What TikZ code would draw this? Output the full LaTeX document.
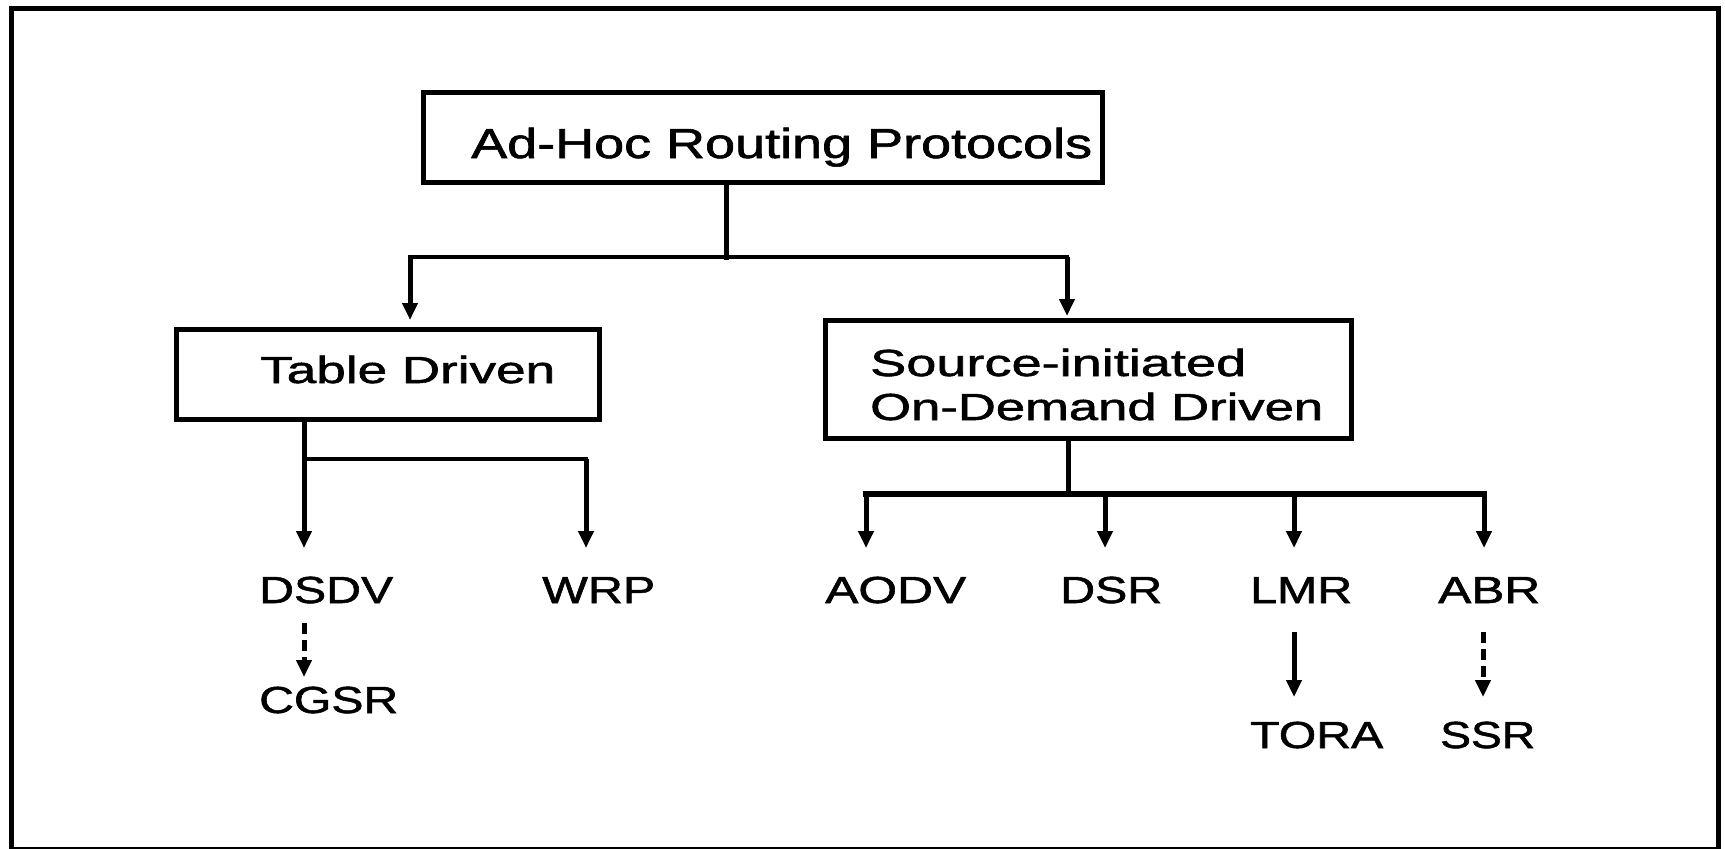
\documentclass[tikz,border=0pt]{standalone}
\usepackage{fontspec}
\setmainfont{Liberation Sans}
\newfontfamily\medfont{Liberation Sans}[FakeBold=1.3]
\usepackage{graphicx}
\usetikzlibrary{arrows.meta}
\newcommand{\fitw}[2]{\resizebox{#1pt}{\height}{#2}}
\tikzset{
  boxst/.style={draw, line width=5pt, inner sep=0pt, rectangle},
  lbl/.style={anchor=base west, inner sep=0pt, font=\fontsize{37.7}{40}\medfont},
  vline/.style={line width=5pt, line cap=rect},
  hline/.style={line width=3.5pt, line cap=rect},
  varr/.style={line width=5pt, -{Triangle[width=15pt,length=17pt]}},
  darr/.style={line width=5pt, dash pattern=on 11pt off 6pt, -{Triangle[width=15pt,length=17pt]}},
}
\begin{document}
\begin{tikzpicture}[x=1pt,y=-1pt]
\useasboundingbox (0,0) rectangle (1725,849);
% outer frame
\draw[line width=5pt] (11,8.5) rectangle (1718,849);

% boxes
\node[boxst, minimum width=679pt, minimum height=89.5pt] (top) at (762.5,137.25) {};
\node[boxst, minimum width=422.5pt, minimum height=90pt] (tdBox) at (387.75,374.5) {};
\node[boxst, minimum width=526pt, minimum height=117.5pt] (sdBox) at (1088,379.25) {};

% texts
\node[lbl, font=\fontsize{42}{44}\medfont] (topText) at (471,158) {\fitw{621}{Ad-Hoc Routing Protocols}};
\node[lbl] (tdText) at (260,383) {\fitw{295}{Table Driven}};
\node[lbl] (sdText1) at (870,376) {\fitw{376}{Source-initiated}};
\node[lbl] (sdText2) at (870,420) {\fitw{453}{On-Demand Driven}};
\node[lbl] (dsdv) at (259,603) {\fitw{134}{DSDV}};
\node[lbl] (wrp) at (542,603) {\fitw{113}{WRP}};
\node[lbl] (cgsr) at (259,713) {\fitw{139}{CGSR}};
\node[lbl] (aodv) at (825,603) {\fitw{141}{AODV}};
\node[lbl] (dsr) at (1060,603) {\fitw{102}{DSR}};
\node[lbl] (lmr) at (1250,603) {\fitw{102}{LMR}};
\node[lbl] (abr) at (1438,603) {\fitw{102}{ABR}};
\node[lbl] (tora) at (1250,748) {\fitw{133}{TORA}};
\node[lbl] (ssr) at (1440,748) {\fitw{95}{SSR}};

% connector points
\coordinate (topOut) at (726,182);
\coordinate (bus1) at (726,257);
\coordinate (tdBus) at (410,257);
\coordinate (sdBus) at (1067,257);
\coordinate (tdIn) at (410,320);
\coordinate (sdIn) at (1067,316);

\coordinate (tdOut) at (304,419.5);
\coordinate (tdBus2) at (304,459);
\coordinate (wrpBus) at (586,459);
\coordinate (dsdvIn) at (304,548);
\coordinate (wrpIn) at (586,548);

\coordinate (sdOut) at (1068,438);
\coordinate (sdBus2) at (1068,493.5);
\coordinate (busL) at (866,493.5);
\coordinate (busA) at (1105,493.5);
\coordinate (busB) at (1294,493.5);
\coordinate (busR) at (1484,493.5);
\coordinate (aodvIn) at (866,548);
\coordinate (dsrIn) at (1105,548);
\coordinate (lmrIn) at (1294,548);
\coordinate (abrIn) at (1484,548);

\coordinate (dsdvOut) at (304,623);
\coordinate (cgsrIn) at (304,677);
\coordinate (lmrOut) at (1294,632);
\coordinate (toraIn) at (1294,697);
\coordinate (abrOut) at (1483,632);
\coordinate (ssrIn) at (1483,697);

% top level
\draw[vline] (topOut) -- (bus1);
\draw[hline] (tdBus) -- (sdBus);
\draw[varr] (tdBus) -- (tdIn);
\draw[varr] (sdBus) -- (sdIn);

% table driven
\draw[varr] (tdOut) -- (dsdvIn);
\draw[hline] (tdBus2) -- (wrpBus);
\draw[varr] (wrpBus) -- (wrpIn);

% source initiated
\draw[vline] (sdOut) -- (sdBus2);
\draw[line width=6pt, line cap=rect] (busL) -- (busR);
\draw[varr] (busL) -- (aodvIn);
\draw[varr] (busA) -- (dsrIn);
\draw[varr] (busB) -- (lmrIn);
\draw[varr] (busR) -- (abrIn);

% second level
\draw[darr] (dsdvOut) -- (cgsrIn);
\draw[varr] (lmrOut) -- (toraIn);
\draw[darr] (abrOut) -- (ssrIn);
\end{tikzpicture}
\end{document}
